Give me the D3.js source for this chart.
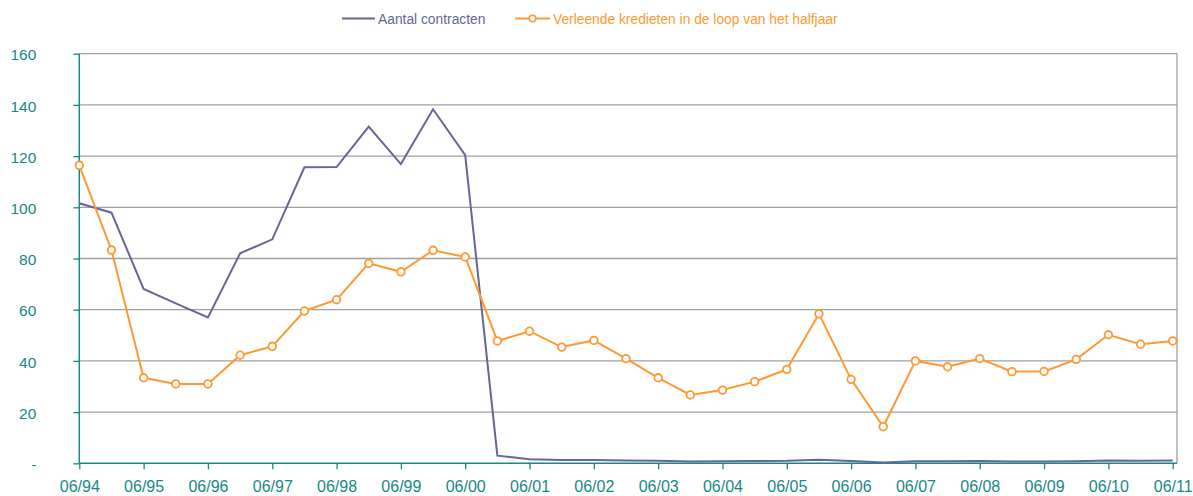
<!DOCTYPE html>
<html>
<head>
<meta charset="utf-8">
<script src="https://cdn.jsdelivr.net/npm/d3@7"></script>
<style>
  body { margin: 0; background: #fff; }
  svg { display: block; font-family: "Liberation Sans", Arial, sans-serif; }
</style>
</head>
<body>
<svg id="chart" width="1193" height="496"></svg>
<script>
// half-year periods, June and December
var periods = ['06/94','12/94','06/95','12/95','06/96','12/96','06/97','12/97','06/98','12/98',
               '06/99','12/99','06/00','12/00','06/01','12/01','06/02','12/02','06/03','12/03',
               '06/04','12/04','06/05','12/05','06/06','12/06','06/07','12/07','06/08','12/08',
               '06/09','12/09','06/10','12/10','06/11'];

var contracten = [101.6, 97.9, 68.1, 62.5, 57.0, 82.0, 87.5, 115.6, 115.7, 131.5,
                  116.9, 138.3, 120.4, 3.0, 1.6, 1.3, 1.3, 1.1, 1.0, 0.7,
                  0.8, 0.9, 1.0, 1.4, 0.9, 0.3, 0.8, 0.8, 0.9, 0.7,
                  0.7, 0.8, 1.1, 1.0, 1.1];

var kredieten = [116.4, 83.3, 33.4, 31.0, 31.0, 42.2, 45.7, 59.5, 63.9, 78.1,
                 74.8, 83.2, 80.6, 47.8, 51.6, 45.4, 48.0, 40.9, 33.4, 26.7,
                 28.6, 31.9, 36.7, 58.4, 32.8, 14.3, 40.0, 37.7, 40.9, 35.8,
                 35.9, 40.6, 50.2, 46.5, 47.8];

var yTicks = [0, 20, 40, 60, 80, 100, 120, 140, 160];

var seriesNames = ['Aantal contracten', 'Verleende kredieten in de loop van het halfjaar'];

var purple = '#666699', orange = '#ff9933', teal = '#168a86', grid = '#a0a0a0';

var svg = d3.select('#chart');

var plotLeft = 79.3, lastX = 1172.7, plotRight = 1177, plotTop = 53.7, plotBottom = 463.3;

var x = d3.scalePoint().domain(periods).range([plotLeft, lastX]);
var y = d3.scaleLinear().domain([0, 160]).range([plotBottom, plotTop]);

// gridlines
svg.append('g')
    .selectAll('line')
    .data(yTicks.filter(function (d) { return d > 0; }))
    .join('line')
    .attr('x1', plotLeft).attr('x2', plotRight)
    .attr('y1', function (d) { return y(d); })
    .attr('y2', function (d) { return y(d); })
    .attr('stroke', grid).attr('stroke-width', 1.3);

// right border of plot area
svg.append('line')
    .attr('x1', plotRight).attr('x2', plotRight)
    .attr('y1', plotTop).attr('y2', plotBottom)
    .attr('stroke', grid).attr('stroke-width', 1.3);

// y axis
var yAxis = svg.append('g')
    .attr('transform', 'translate(' + plotLeft + ',0)')
    .call(d3.axisLeft(y).tickValues(yTicks).tickSize(6).tickPadding(37)
        .tickFormat(function (d) { return d === 0 ? '-' : d; }));
yAxis.select('.domain').attr('stroke', teal).attr('stroke-width', 1.5).attr('d', 'M0,' + plotTop + 'V' + plotBottom);
yAxis.selectAll('.tick line').attr('stroke', teal).attr('stroke-width', 1.3);
yAxis.selectAll('.tick text').attr('fill', teal).attr('font-size', 15.5).attr('dy', '0.4em');

// x axis
var xAxis = svg.append('g')
    .attr('transform', 'translate(0,' + plotBottom + ')')
    .call(d3.axisBottom(x)
        .tickValues(periods.filter(function (p) { return p.indexOf('06/') === 0; }))
        .tickSize(6).tickPadding(11.5).tickSizeOuter(0));
xAxis.select('.domain').attr('stroke', teal).attr('stroke-width', 1.5)
    .attr('d', 'M' + plotLeft + ',0H' + plotRight);
xAxis.selectAll('.tick line').attr('stroke', teal).attr('stroke-width', 1.3);
xAxis.selectAll('.tick text').attr('fill', teal).attr('font-size', 16);

var line = d3.line()
    .x(function (d, i) { return x(periods[i]); })
    .y(function (d) { return y(d); });

svg.append('path')
    .datum(contracten)
    .attr('d', line)
    .attr('fill', 'none')
    .attr('stroke', purple)
    .attr('stroke-width', 2);

svg.append('path')
    .datum(kredieten)
    .attr('d', line)
    .attr('fill', 'none')
    .attr('stroke', orange)
    .attr('stroke-width', 2);

svg.append('g')
    .selectAll('circle')
    .data(kredieten)
    .join('circle')
    .attr('cx', function (d, i) { return x(periods[i]); })
    .attr('cy', function (d) { return y(d); })
    .attr('r', 3.8)
    .attr('fill', '#fff')
    .attr('stroke', orange)
    .attr('stroke-width', 1.8);

// legend
var legend = svg.append('g').attr('font-size', 13.8);
legend.append('line')
    .attr('x1', 342).attr('x2', 375).attr('y1', 18.5).attr('y2', 18.5)
    .attr('stroke', purple).attr('stroke-width', 2);
legend.append('text')
    .attr('x', 378).attr('y', 24)
    .attr('fill', purple)
    .text(seriesNames[0]);
legend.append('line')
    .attr('x1', 515).attr('x2', 550).attr('y1', 18.5).attr('y2', 18.5)
    .attr('stroke', orange).attr('stroke-width', 2);
legend.append('circle')
    .attr('cx', 532.5).attr('cy', 18.5).attr('r', 3.3)
    .attr('fill', '#fff').attr('stroke', orange).attr('stroke-width', 1.6);
legend.append('text')
    .attr('x', 553).attr('y', 24)
    .attr('fill', orange)
    .text(seriesNames[1]);
</script>
</body>
</html>
